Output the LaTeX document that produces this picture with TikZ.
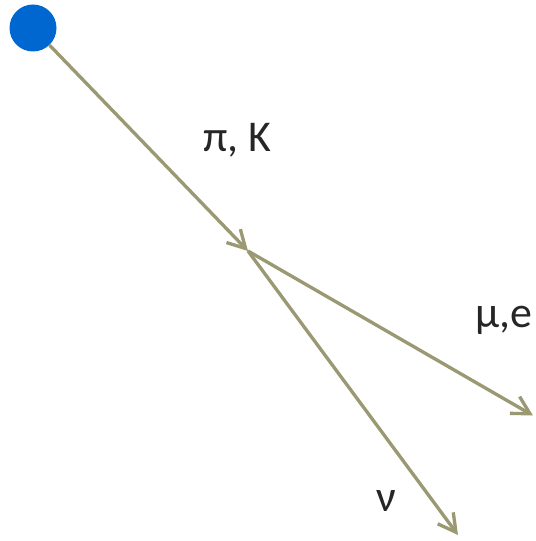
\documentclass[tikz,border=0pt]{standalone}
\usepackage{fontspec}
\setmainfont{Carlito}
\usepackage{tikz}
\usetikzlibrary{arrows.meta,calc,positioning}

\definecolor{trackcol}{RGB}{155,153,115}
\definecolor{vertexblue}{RGB}{0,102,208}
\definecolor{labelcol}{RGB}{38,38,38}

\begin{document}
\begin{tikzpicture}[
    track/.style={draw=trackcol,line width=1.9pt,
      -{Straight Barb[length=10pt,width=11pt]}},
    plabel/.style={text=labelcol,font=\fontsize{25}{29}\selectfont}]
  \useasboundingbox (0,0) rectangle (10.7,10.82);

  % Production point and decay vertex
  \node[circle,fill=vertexblue,inner sep=0pt,minimum size=0.94cm] (src) at (0.66,10.26) {};
  \coordinate (dec) at (4.96,5.80);

  % Ends of the daughter tracks
  \coordinate (lep) at (10.66,2.51);
  \coordinate (nu)  at (9.16,0.12);

  \draw[track] (src) -- (dec);
  \draw[track] (dec) -- (lep);
  \draw[track] (dec) -- (nu);

  \node[plabel] (lmeson) at (4.74,8.02) {π, K};
  \node[plabel] (llep)   at (10.08,4.42) {μ,e};
  \node[plabel] (lnu)    at (7.72,0.80) {ν};
\end{tikzpicture}
\end{document}
